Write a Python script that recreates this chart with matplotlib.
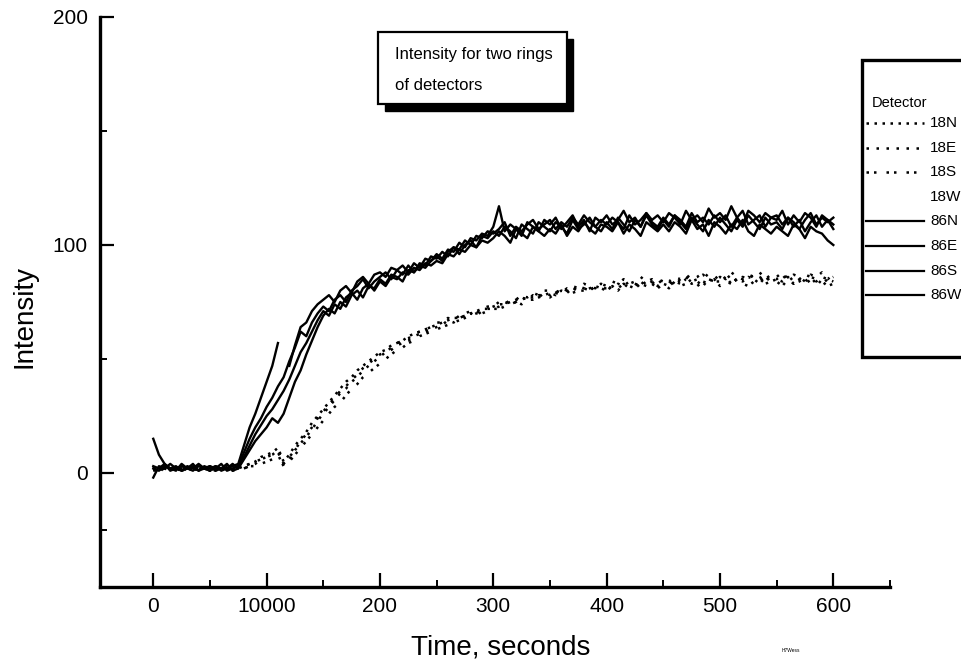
import matplotlib
matplotlib.use("Agg")
import matplotlib.pyplot as plt
from matplotlib.patches import Rectangle
from matplotlib.lines import Line2D

nan = float('nan')
plt.rcParams['font.family'] = ['Liberation Sans', 'DejaVu Sans']

# ---------------- data ----------------
time_s = list(range(0, 601, 5))

d86N = [15, 8, 4, 2, 3, 1, 2, 4, 1, 3,
        2, 3, 1, 2, 3, 4, 12, 20, 26, 33,
        40, 47, 57, nan, 47, 56, 64, 66, 71, 74,
        76, 78, 75, 80, 82, 79, 84, 86, 83, 87,
        88, 86, 90, 89, 91, 88, 92, 90, 94, 93,
        96, 94, 98, 97, 101, 99, 103, 102, 105, 104,
        108, 117, 106, 109, 107, 104, 110, 108, 106, 111,
        109, 112, 107, 110, 113, 108, 111, 106, 112, 110,
        113, 109, 111, 115, 110, 112, 108, 114, 111, 113,
        110, 114, 112, 109, 115, 111, 113, 110, 116, 112,
        114, 111, 117, 112, 109, 115, 113, 110, 114, 112,
        111, 115, 109, 113, 110, 114, 112, 108, 113, 111,
        109]
d86E = [3, 2, 4, 1, 2, 3, 2, 1, 3, 2,
        3, 2, 4, 1, 2, 3, 9, 15, 20, 24,
        29, 33, 38, 42, 49, 55, 62, 60, 66, 70,
        73, 71, 76, 78, 75, 80, 82, 85, 81, 84,
        86, 88, 85, 89, 87, 91, 88, 92, 91, 95,
        94, 97, 95, 99, 98, 102, 100, 104, 103, 106,
        105, 107, 110, 104, 108, 106, 109, 111, 107, 109,
        111, 107, 110, 108, 112, 109, 113, 110, 108, 111,
        109, 112, 110, 107, 113, 109, 111, 114, 110, 108,
        112, 109, 113, 111, 108, 114, 110, 112, 109, 113,
        110, 113, 108, 112, 115, 109, 111, 113, 108, 112,
        113, 109, 112, 110, 107, 111, 114, 109, 112, 110,
        112]
d86S = [-2, 3, 2, 4, 2, 1, 3, 2, 4, 2,
        1, 3, 2, 2, 4, 2, 7, 12, 17, 21,
        25, 28, 32, 36, 41, 47, 53, 57, 62, 67,
        71, 69, 74, 72, 77, 79, 76, 81, 83, 80,
        84, 82, 86, 85, 88, 87, 90, 89, 92, 91,
        93, 92, 96, 95, 98, 97, 100, 99, 102, 101,
        103, 106, 104, 101, 107, 105, 103, 108, 106, 104,
        107, 105, 109, 104, 108, 106, 110, 107, 105, 109,
        108, 106, 110, 105, 109, 107, 104, 110, 108, 106,
        109, 106, 110, 108, 105, 111, 107, 109, 104, 110,
        108, 105, 109, 107, 111, 106, 104, 109, 107, 105,
        108, 106, 104, 109, 107, 103, 108, 106, 105, 102,
        100]
d86W = [2, 1, 3, 2, 1, 4, 2, 3, 1, 2,
        3, 1, 2, 4, 1, 2, 6, 10, 14, 17,
        20, 24, 22, 26, 33, 40, 45, 52, 58, 64,
        69, 72, 70, 75, 73, 78, 80, 77, 82, 81,
        85, 83, 87, 86, 84, 89, 88, 91, 90, 93,
        95, 93, 97, 99, 96, 100, 102, 99, 104, 103,
        106, 104, 108, 106, 103, 109, 107, 105, 110, 108,
        106, 110, 108, 105, 111, 107, 109, 112, 108, 106,
        110, 107, 112, 109, 106, 111, 108, 113, 109, 107,
        111, 108, 113, 110, 107, 112, 109, 106, 111, 108,
        112, 109, 106, 111, 108, 113, 110, 107, 112, 109,
        110, 107, 112, 108, 111, 106, 110, 113, 108, 111,
        107]
d18N = [1, 2, 1, 3, 2, 1, 2, 3, 1, 2,
        2, 1, 3, 2, 1, 2, 3, 4, 5, 7,
        8, 9, 11, 5, 8, 12, 15, 18, 22, 25,
        28, 31, 34, 37, 40, 42, 45, 47, 49, 51,
        53, 54, 56, 57, 58, 60, 61, 62, 63, 64,
        65, 66, 67, 68, 68, 69, 70, 71, 72, 72,
        73, 74, 74, 75, 76, 76, 77, 77, 78, 78,
        79, 78, 80, 79, 81, 80, 80, 81, 82, 81,
        81, 82, 80, 83, 82, 81, 83, 82, 84, 82,
        83, 82, 84, 83, 85, 83, 84, 82, 85, 84,
        84, 86, 83, 85, 84, 86, 85, 83, 86, 84,
        85, 84, 86, 83, 85, 84, 86, 85, 83, 85,
        84]
d18E = [2, 1, 2, 1, 3, 2, 1, 2, 2, 1,
        1, 2, 2, 1, 3, 2, 2, 3, 4, 6,
        7, 8, 10, 4, 6, 10, 13, 16, 19, 23,
        26, 29, 32, 35, 37, 40, 42, 45, 47, 49,
        51, 53, 54, 56, 57, 58, 60, 61, 62, 63,
        64, 65, 67, 66, 68, 69, 70, 69, 71, 72,
        72, 73, 75, 74, 75, 77, 76, 78, 77, 79,
        78, 80, 79, 81, 80, 82, 81, 80, 82, 83,
        82, 81, 83, 82, 84, 83, 82, 84, 83, 85,
        84, 83, 85, 84, 86, 84, 85, 87, 85, 84,
        86, 85, 87, 84, 86, 85, 87, 86, 84, 86,
        85, 87, 84, 86, 85, 87, 86, 84, 86, 85,
        86]
d18S = [2, 3, 1, 2, 1, 2, 3, 1, 2, 1,
        2, 1, 2, 3, 2, 1, 2, 3, 3, 4,
        5, 6, 8, 3, 5, 8, 11, 14, 17, 20,
        23, 26, 29, 31, 34, 37, 39, 42, 44, 46,
        48, 50, 52, 54, 55, 57, 58, 60, 61, 62,
        63, 64, 65, 66, 67, 68, 69, 70, 70, 71,
        72, 72, 73, 74, 75, 74, 76, 76, 77, 78,
        77, 79, 78, 80, 79, 80, 81, 80, 82, 81,
        80, 82, 81, 83, 81, 82, 84, 82, 83, 81,
        83, 81, 84, 82, 83, 85, 82, 84, 83, 85,
        82, 84, 83, 85, 83, 82, 84, 86, 83, 84,
        84, 82, 85, 83, 84, 86, 83, 85, 84, 82,
        83]
d18W = [1, 2, 2, 1, 2, 3, 1, 2, 1, 2,
        1, 2, 1, 2, 2, 3, 3, 4, 5, 6,
        7, 8, 9, 4, 7, 10, 14, 17, 20, 24,
        27, 30, 33, 36, 38, 41, 43, 46, 48, 50,
        52, 53, 55, 57, 58, 59, 61, 62, 63, 64,
        66, 66, 68, 67, 69, 70, 71, 70, 72, 73,
        73, 75, 74, 76, 76, 78, 77, 79, 78, 80,
        80, 79, 81, 80, 82, 81, 83, 82, 81, 83,
        82, 84, 83, 85, 83, 84, 86, 84, 85, 83,
        85, 84, 86, 85, 87, 85, 86, 88, 86, 85,
        87, 85, 88, 86, 85, 87, 86, 88, 85, 87,
        86, 88, 85, 87, 86, 84, 87, 86, 88, 85,
        87]

detectors = ["18N", "18E", "18S", "18W", "86N", "86E", "86S", "86W"]
x_ticks = [0, 100, 200, 300, 400, 500, 600]
x_tick_labels = ["0", "10000", "200", "300", "400", "500", "600"]
y_ticks = [0, 100, 200]
y_tick_labels = ["0", "100", "200"]
title_lines = ["Intensity for two rings", "of detectors"]

series = {"18N": d18N, "18E": d18E, "18S": d18S, "18W": d18W,
          "86N": d86N, "86E": d86E, "86S": d86S, "86W": d86W}
styles = {"18N": (0, (1, 2.2)), "18E": (0, (1, 3.0)), "18S": (0, (1, 2, 1, 4)),
          "18W": (0, (1, 3.5)), "86N": "-", "86E": "-", "86S": "-", "86W": "-"}

# ---------------- figure ----------------
W, H = 961, 661
fig = plt.figure(figsize=(W / 100, H / 100), dpi=100)
ax = fig.add_axes([100 / W, 1 - 587 / H, 790 / W, 570 / H])

for name in detectors:
    lw = 1.7 if styles[name] == "-" else 1.8
    ax.plot(time_s, series[name], color="black", lw=lw, linestyle=styles[name])

ax.set_xlim(-47, 650)
ax.set_ylim(-50, 200)
for s in ("top", "right"):
    ax.spines[s].set_visible(False)
for s in ("left", "bottom"):
    ax.spines[s].set_linewidth(2.4)

ax.set_xticks(x_ticks)
ax.set_xticklabels(x_tick_labels)
ax.set_xticks([50, 150, 250, 350, 450, 550, 650], minor=True)
ax.set_yticks(y_ticks)
ax.set_yticklabels(y_tick_labels)
ax.set_yticks([-25, 50, 150], minor=True)
ax.tick_params(which="major", direction="in", length=10, width=1.6,
               labelsize=15, pad=7)
ax.tick_params(which="minor", direction="in", length=5, width=1.4)
ax.tick_params(axis="y", which="major", pad=9)

# ---------------- overlay in pixel coordinates ----------------
ov = fig.add_axes([0, 0, 1, 1])
ov.set_xlim(0, W)
ov.set_ylim(H, 0)
ov.axis("off")
ov.patch.set_alpha(0)

# axis titles
ov.text(24, 316, "Intensity", rotation=90, ha="center", va="center", fontsize=20)
ov.text(590, 655, "Time, seconds", ha="right", va="baseline", fontsize=20)
ov.text(782, 651, "H7Wess", ha="left", va="center", fontsize=3.5)

# title box with shadow
ov.add_patch(Rectangle((385, 39), 188, 72, facecolor="black", edgecolor="black"))
ov.add_patch(Rectangle((378, 32), 189, 72, facecolor="white", edgecolor="black", lw=1.6))
ov.text(395, 55, title_lines[0], ha="left", va="center", fontsize=12)
ov.text(395, 85, title_lines[1], ha="left", va="center", fontsize=12)

# legend box (partly outside the figure)
ov.add_patch(Rectangle((862, 60), 200, 297, facecolor="white", edgecolor="black",
                       lw=2.4, clip_on=False))
ov.text(872, 103, "Detector", ha="left", va="center", fontsize=10.5)
y0, dy = 123, 24.6
for i, name in enumerate(detectors):
    yy = y0 + i * dy
    if name != "18W":
        ov.add_line(Line2D([866, 924], [yy, yy], color="black",
                           lw=1.8 if styles[name] != "-" else 1.6,
                           linestyle=styles[name]))
    ov.text(930, yy, name, ha="left", va="center", fontsize=11)

fig.savefig("out.png", dpi=100)
